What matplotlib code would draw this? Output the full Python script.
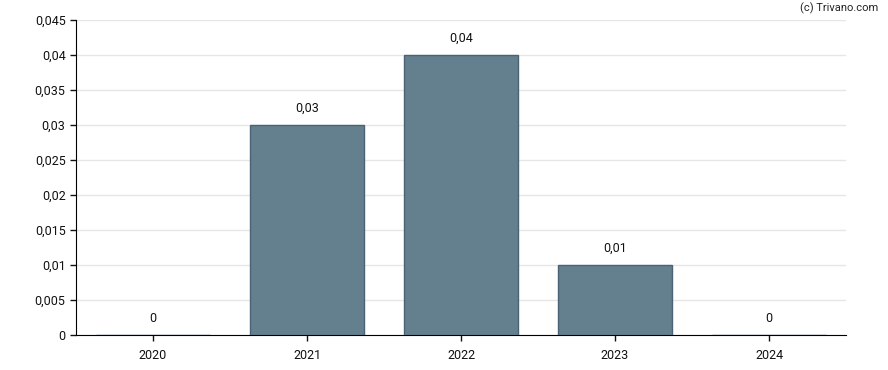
import matplotlib
matplotlib.use("Agg")
import matplotlib.pyplot as plt
from matplotlib.ticker import FuncFormatter, MultipleLocator

years = ["2020", "2021", "2022", "2023", "2024"]
values = [0.0, 0.03, 0.04, 0.01, 0.0]
labels = ["0", "0,03", "0,04", "0,01", "0"]

plt.rcParams['font.family'] = ['Roboto', 'DejaVu Sans']
fig = plt.figure(figsize=(8.88, 3.7), dpi=100)
ax = fig.add_axes([76/888, 35/370, 770/888, 315/370])

x = range(len(years))
ax.bar(x, values, width=0.74, color="#64808f", edgecolor="#4a6274", linewidth=1, zorder=3)
for i, (v, l) in enumerate(zip(values, labels)):
    ax.annotate(l, (i, v), xytext=(0, 7.5), textcoords="offset points", ha="center", va="bottom",
                fontsize=9, color="#111111")

ax.set_xlim(-0.5, len(years) - 0.5)
ax.set_ylim(0, 0.045)
ax.yaxis.set_major_locator(MultipleLocator(0.005))
def fmt(v, pos):
    s = f"{v:.3f}".rstrip("0").rstrip(".")
    return s.replace(".", ",")
ax.yaxis.set_major_formatter(FuncFormatter(fmt))
ax.set_xticks(list(x))
ax.set_xticklabels(years)
ax.tick_params(axis="both", labelsize=9, colors="#111111", length=4, width=1)
ax.tick_params(axis="x", pad=6)
ax.grid(axis="y", color="#e6e6e6", linewidth=1, zorder=0)
ax.set_axisbelow(True)
for s in ["top", "right"]:
    ax.spines[s].set_visible(False)
ax.spines["left"].set_color("#000000")
ax.spines["bottom"].set_color("#000000")

fig.text(878/888, 1 - 8/370, "(c) Trivano.com", ha="right", va="center", fontsize=8, color="#222222")
fig.savefig("out.png", dpi=100)
